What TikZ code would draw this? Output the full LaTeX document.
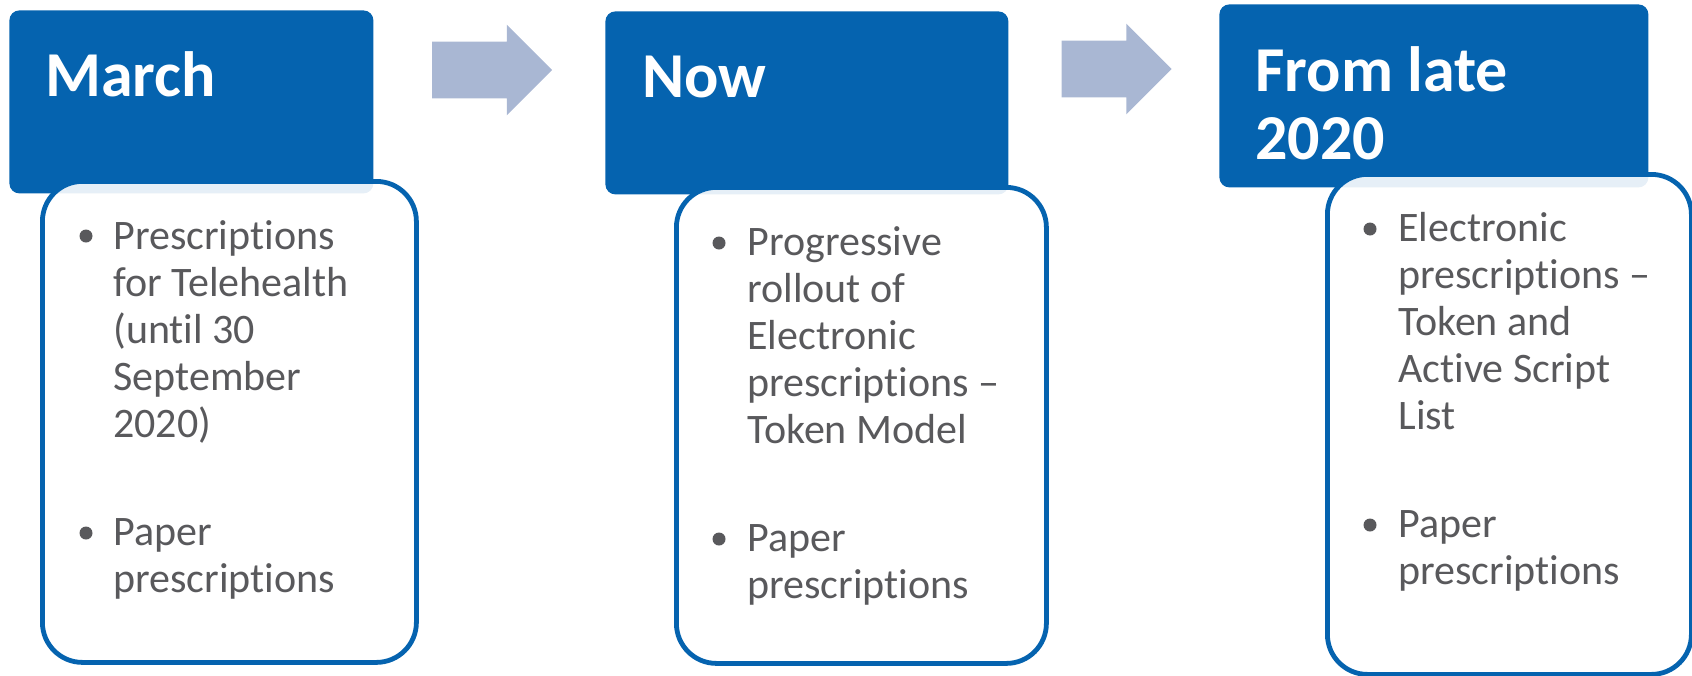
\documentclass[tikz,border=0pt]{standalone}
\usepackage{fontspec}
\setmainfont{Carlito}[Ligatures={TeX,NoCommon}]
\usetikzlibrary{shapes.arrows}
\definecolor{stageblue}{HTML}{0563AF}
\definecolor{flowgrey}{HTML}{A9B7D3}
\definecolor{bodytext}{HTML}{59595C}

\begin{document}
\begin{tikzpicture}[x=0.5pt, y=-0.5pt,
    stage/.style={fill=stageblue, rounded corners=5pt, anchor=north west, inner sep=0pt, minimum height=91.5pt},
    detail/.style={draw=stageblue, line width=2.4pt, fill=white, fill opacity=0.9, rounded corners=20pt, anchor=north west, inner sep=0pt},
    title/.style={text=white, font=\fontsize{32}{34}\selectfont\bfseries, anchor=north west, inner sep=0pt, align=left},
    entry/.style={text=bodytext, font=\fontsize{21}{23.5}\selectfont, anchor=north west, inner sep=0pt, align=left},
    dot/.style={circle, fill=bodytext, minimum size=6.5pt, inner sep=0pt},
    flow/.style={single arrow, fill=flowgrey, single arrow head extend=8.5pt, single arrow tip angle=90, inner xsep=0pt, inner ysep=14pt}]
  \useasboundingbox (0,0) rectangle (1692,675);

  % stage headers
  \node[stage, minimum width=182pt]   (h1) at (9,10)    {};
  \node[stage, minimum width=201.5pt] (h2) at (605,11)  {};
  \node[stage, minimum width=214.5pt] (h3) at (1219,4)  {};

  % detail boxes, laid over the headers
  \node[detail, minimum width=187pt, minimum height=240.5pt] (d1) at (40,179)   {};
  \node[detail, minimum width=185pt, minimum height=238pt]   (d2) at (674,185)  {};
  \node[detail, minimum width=182pt, minimum height=250pt]   (d3) at (1325,172) {};

  % arrows between stages
  \node[flow, minimum height=60pt] (a1) at (478,70)    {};
  \node[flow, minimum height=55pt] (a2) at (1102.5,69) {};

  % titles
  \node[title] (t1) at (45,48.4)    {\strut March};
  \node[title] (t2) at (642,49.4)   {\strut Now};
  \node[title] (t3) at (1255,43.4)  {\strut From late\\2020};

  % bullet points
  \node[dot] (b1a) at (86,236) {};
  \node[entry] (e1a) at (113,216.1) {\strut Prescriptions\\for Telehealth\\(until 30\\September\\2020)};
  \node[dot] (b1b) at (86,533) {};
  \node[entry] (e1b) at (113,512.1) {\strut Paper\\prescriptions};

  \node[dot] (b2a) at (719,243) {};
  \node[entry] (e2a) at (747,222.1) {\strut Progressive\\rollout of\\Electronic\\prescriptions –\\Token Model};
  \node[dot] (b2b) at (719,539) {};
  \node[entry] (e2b) at (747,518.1) {\strut Paper\\prescriptions};

  \node[dot] (b3a) at (1370,229) {};
  \node[entry] (e3a) at (1398,208.1) {\strut Electronic\\prescriptions –\\Token and\\Active Script\\List};
  \node[dot] (b3b) at (1370,525) {};
  \node[entry] (e3b) at (1398,504.1) {\strut Paper\\prescriptions};
\end{tikzpicture}
\end{document}
